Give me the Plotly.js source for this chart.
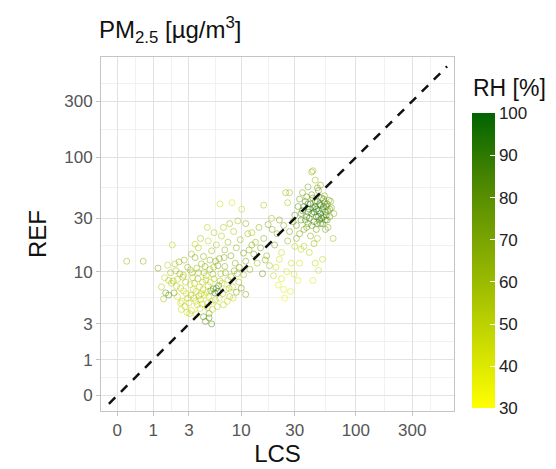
<!DOCTYPE html>
<html><head><meta charset="utf-8">
<script src="https://cdn.plot.ly/plotly-3.0.1.min.js"></script>
<style>html,body{margin:0;padding:0;background:#fff}</style>
</head><body><div id="chart" style="width:556px;height:469px"></div>
<script>
// Low-cost sensor PM2.5 (LCS), reference PM2.5 (REF), relative humidity (RH, %)
const lcs = [
0.2,0.65,1.2,1.35,1.5,1.55,1.7,1.8,1.9,1.65,
1.85,1.45,2.0,2.1,2.2,2.3,2.4,2.5,2.6,2.7,
2.8,2.9,3.0,3.1,3.2,3.3,3.4,3.5,3.6,3.7,
3.8,3.9,4.0,4.1,4.2,4.3,4.4,4.5,4.6,4.7,
4.8,4.9,5.0,5.1,5.2,5.4,5.5,5.6,5.7,5.8,
6.0,6.2,6.4,6.6,6.8,7.0,7.2,7.5,7.8,8.0,
8.3,8.6,9.0,9.5,10.0,10.5,11,2.2,2.45,2.75,
3.05,3.35,3.65,3.95,4.25,4.55,4.85,5.3,2.9,3.45,
3.85,4.15,2.6,3.25,4.65,5.9,6.3,7.4,2.35,1.95,
3.2,3.8,4.3,4.8,5.2,5.8,6.2,6.5,7.0,7.5,
8.0,8.5,9.0,9.8,10.5,4.7,6.8,6.3,8.2,10.1,
11.5,12.5,5.5,4.0,7.8,9.3,11,3.5,5.0,6.0,
8.8,9.6,11,12,13,14,15,15.6,16,17,
18,18.8,19.5,20,21,22,23,23,24,24,
25,26,27,16,26,27,28,29,30,32,
33,34,19,13.5,12.5,14.5,17.5,22,20.5,25.5,
21.5,24.5,27.5,29.5,16.5,11.8,30,31,32,33,
34,35,36,37,38,39,39,40,41,42,
43,42,43,44,45,46,46,47,48,48,
49,50,50,51,52,52,53,54,55,55,
56,57,58,59,60,62,64,65,44,47,
36,40,45,48,43,52,38,35,33,31,
41,44,46,49,51,53,47,42,39,37,
54,58,61,50,45,56,2.15,2.55,2.85,3.15,
3.55,3.75,4.05,4.35,4.75,5.05,5.35,5.65,6.1,6.7,
7.1,7.7,8.4,9.2,2.05,2.65,3.1,4.45,5.45,6.9,
1.7,2.4,3.6,4.9,5.2,34,36,38,40,43,
45,48,50,53,55,57,60,42,47,39
];
const ref = [
12.5,12.5,10.8,7.2,8.8,6.3,6.0,9.8,17.5,11.5,
7.8,5.5,6.3,10.2,8.5,12.3,7.0,5.2,9.3,4.6,
6.2,11.0,5.0,7.6,4.2,8.8,5.6,13.5,6.5,4.8,
9.8,7.2,5.4,11.8,8.0,3.6,6.0,3.2,9.2,4.5,
7.4,3.9,10.5,6.6,5.2,6.9,8.6,6.3,12.5,7.0,
6.5,5.6,9.6,7.8,4.8,11.2,6.8,8.4,5.8,9.0,
7.2,10.2,6.4,8.0,7.0,9.4,6.1,5.8,4.3,8.0,
3.9,6.8,10.8,4.4,6.8,8.4,5.8,4.3,5.6,7.8,
5.9,4.9,6.6,9.8,6.4,4.6,8.2,5.2,9.6,8.2,
14.5,16.5,13.8,19,15.5,17.5,13.2,21,15.8,18.5,
14,23,16.5,19.5,14.8,25,25,40,41,36,
22,17.5,22.5,20,27,28.5,27,17.8,12.8,11.4,
12.0,11.0,12.5,10.5,14.5,12,16.5,9.6,20,14,
11.4,30,9.2,17.5,22,13,15,8.6,6.8,26,
50,41,50,39,19,23,12,28,17,8.3,
12,16,24,18.5,22.5,25,26.5,29,11,10,
7.5,5.6,6.5,9.5,12.8,15.8,32,26,38,22,
29,35,24,42,31,27,56,36,21,75,
77,33,45,28,38,31,24,42,35,52,
29,39,33,45,27,36,31,41,34,24,
38,29,35,43,31,37,20,33,18,20,
17,15,12,10.3,8.3,13,46,50,44,20,
40,34,36,40,30,38,27,26,34,29,
47,25,42,58,64,32,7.3,8.9,4.0,6.0,
5.2,8.6,6.2,9.8,5.0,8.0,9.5,5.4,7.4,6.2,
9.8,7.0,5.6,9.6,11.8,12.8,10.4,11.2,11.0,13.5,
8.3,5.0,3.8,3.5,3.0,33,38,25,30,37,
42,31,27,44,29,40,36,48,55,40
];
const rh = [
62,66,72,55,48,78,82,60,50,52,
55,58,76,58,50,64,54,50,55,52,
48,68,48,46,46,60,54,70,52,50,
62,48,52,66,54,80,46,82,58,54,
50,76,64,80,48,85,56,88,68,84,
90,46,60,52,52,66,50,56,54,62,
54,68,72,58,76,60,70,46,48,56,
50,50,62,48,55,52,48,50,52,54,
54,50,50,58,48,52,60,46,64,58,
60,55,68,50,62,58,70,54,64,60,
72,56,66,62,74,52,58,45,42,48,
60,68,56,60,62,57,66,50,64,70,
66,72,70,66,72,60,74,82,68,64,
58,60,50,72,66,44,48,42,40,70,
62,58,60,56,64,74,46,76,52,40,
44,48,68,62,58,64,70,72,46,42,
38,36,40,44,70,66,78,74,80,70,
84,86,72,82,88,78,70,90,68,64,
60,86,80,84,92,88,76,86,90,78,
82,88,94,84,80,90,86,82,88,74,
84,78,80,76,72,70,60,66,62,58,
54,52,50,46,40,48,78,72,74,66,
92,90,94,86,90,92,82,80,86,76,
70,68,66,68,62,88,52,58,46,54,
50,56,52,60,48,50,62,54,82,56,
64,58,48,66,56,62,58,64,60,68,
54,50,46,78,84,82,84,74,86,88,
84,92,86,80,84,82,78,76,72,88
];
const tickLabels = [0, 1, 3, 10, 30, 100, 300];
const rhTicks = [30, 40, 50, 60, 70, 80, 90, 100];
const identityEnds = [-0.15, 589];

// axes use a log scale of (value + 1)
const off = v => v + 1;
const tickVals = tickLabels.map(off);
const minorVals = [];
for (let i = 0; i < tickVals.length - 1; i++) minorVals.push(Math.sqrt(tickVals[i] * tickVals[i + 1]));
minorVals.push(tickVals[tickVals.length - 1] * Math.sqrt(tickVals[1] / tickVals[0]));

const FONT = 'Liberation Sans, Arial, Helvetica, sans-serif';

const scatter = {
  type: 'scatter', mode: 'markers',
  x: lcs.map(off), y: ref.map(off),
  hoverinfo: 'skip', showlegend: false,
  marker: {
    symbol: 'circle-open', size: 6, opacity: 0.5,
    color: rh, cmin: 30, cmax: 100,
    colorscale: [[0, '#FFFF00'], [0.25, '#C4D700'], [0.5, '#8AAF00'], [0.75, '#508900'], [1, '#006400']],
    line: {width: 1},
    showscale: true,
    colorbar: {
      tickmode: 'array', tickvals: rhTicks,
      ticks: 'inside', ticklen: 5, tickcolor: '#ffffff', tickwidth: 1,
      tickfont: {family: FONT, size: 17, color: '#222'},
      thickness: 23, thicknessmode: 'pixels',
      len: 295, lenmode: 'pixels',
      x: 1.051, xanchor: 'left', xpad: 0,
      y: 0.424, yanchor: 'middle', ypad: 0,
      outlinewidth: 0
    }
  }
};

const identity = {
  type: 'scatter', mode: 'lines',
  x: identityEnds.map(off), y: identityEnds.map(off),
  hoverinfo: 'skip', showlegend: false,
  line: {color: '#111', width: 2.5, dash: '9px,8px'}
};

function axis(range, title, standoff) {
  return {
    type: 'log', range: range,
    tickmode: 'array', tickvals: tickVals, ticktext: tickLabels.map(String),
    showgrid: true, gridcolor: '#e2e2e2', gridwidth: 1,
    minor: {tickmode: 'array', tickvals: minorVals, showgrid: true, gridcolor: '#eeeeee', gridwidth: 0.8, ticks: ''},
    showline: true, mirror: true, linecolor: '#c4c4c4', linewidth: 1,
    ticks: 'outside', ticklen: 4, tickcolor: '#c4c4c4', tickwidth: 1,
    tickfont: {family: FONT, size: 17, color: '#555'},
    zeroline: false, automargin: false,
    title: {text: title, font: {family: FONT, size: 24, color: '#111'}, standoff: standoff}
  };
}

const layout = {
  width: 556, height: 469,
  margin: {l: 101, r: 102, t: 57, b: 58},
  paper_bgcolor: '#fff', plot_bgcolor: '#fff',
  showlegend: false,
  title: {
    text: 'PM<sub>2.5</sub> [µg/m<sup>3</sup>]',
    font: {family: FONT, size: 24, color: '#111'},
    xref: 'container', x: 99 / 556, xanchor: 'left',
    yref: 'container', y: 1 - 21 / 469, yanchor: 'top'
  },
  annotations: [{
    text: 'RH [%]', showarrow: false,
    xref: 'paper', x: 1.048, xanchor: 'left',
    yref: 'paper', y: 0.912, yanchor: 'middle',
    font: {family: FONT, size: 23, color: '#111'}
  }],
  xaxis: axis([-0.137, 2.829], 'LCS', 4),
  yaxis: axis([-0.131, 2.85], 'REF', 10)
};

Plotly.newPlot('chart', [scatter, identity], layout, {displayModeBar: false, staticPlot: true});
</script></body></html>
